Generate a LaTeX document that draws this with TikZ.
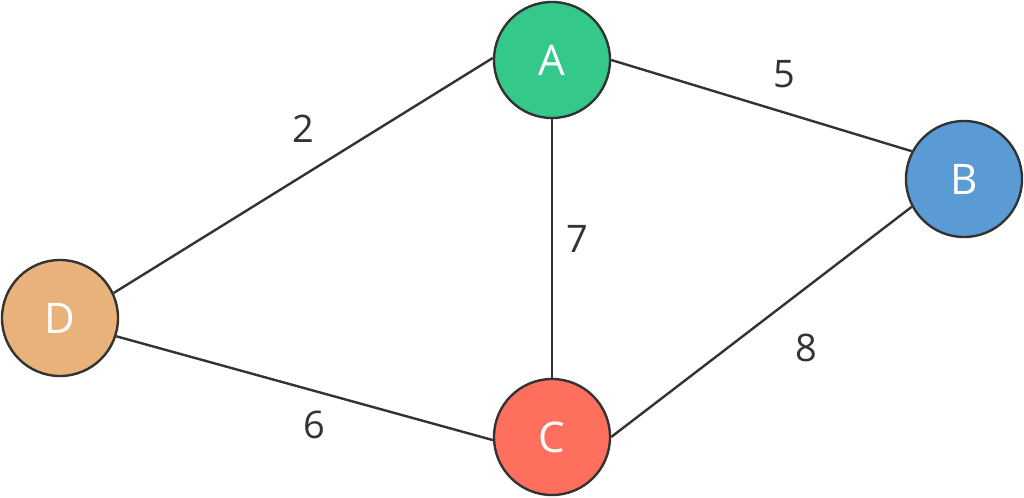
\documentclass[tikz,border=0pt]{standalone}
\usepackage{fontspec}
\setmainfont{Open Sans}
\usetikzlibrary{positioning}
\definecolor{ink}{HTML}{333333}
\definecolor{nodeA}{HTML}{34C98A}
\definecolor{nodeB}{HTML}{5B9BD5}
\definecolor{nodeC}{HTML}{FF6F5E}
\definecolor{nodeD}{HTML}{E9B27A}
\begin{document}
\begin{tikzpicture}[x=0.025cm,y=-0.025cm,
vertex/.style={circle,draw=ink,line width=0.06cm,minimum size=2.9cm,inner sep=0pt,
text=white,font=\fontsize{30}{30}\selectfont},
weight/.style={text=ink,font=\fontsize{27}{27}\selectfont,inner sep=0pt},
edge/.style={draw=ink,line width=0.06cm}]
\useasboundingbox (0,0) rectangle (1024,498);
\node[vertex,fill=nodeA] (A) at (552,60) {A};
\node[vertex,fill=nodeB] (B) at (964,179) {B};
\node[vertex,fill=nodeC] (C) at (552,437) {C};
\node[vertex,fill=nodeD] (D) at (60,318) {D};
\draw[edge] (D.25)--(A.178);\draw[edge] (A.east)--(B.152);
\draw[edge] (A.south)--(C.north);\draw[edge] (B.208)--(C.east);
\draw[edge] (D.-18)--(C.183);
\node[weight] (wDA) at (303,129) {2};
\node[weight] (wAB) at (784,74) {5};
\node[weight] (wAC) at (577,239) {7};
\node[weight] (wBC) at (806,348) {8};
\node[weight] (wDC) at (314,425) {6};
\end{tikzpicture}
\end{document}
